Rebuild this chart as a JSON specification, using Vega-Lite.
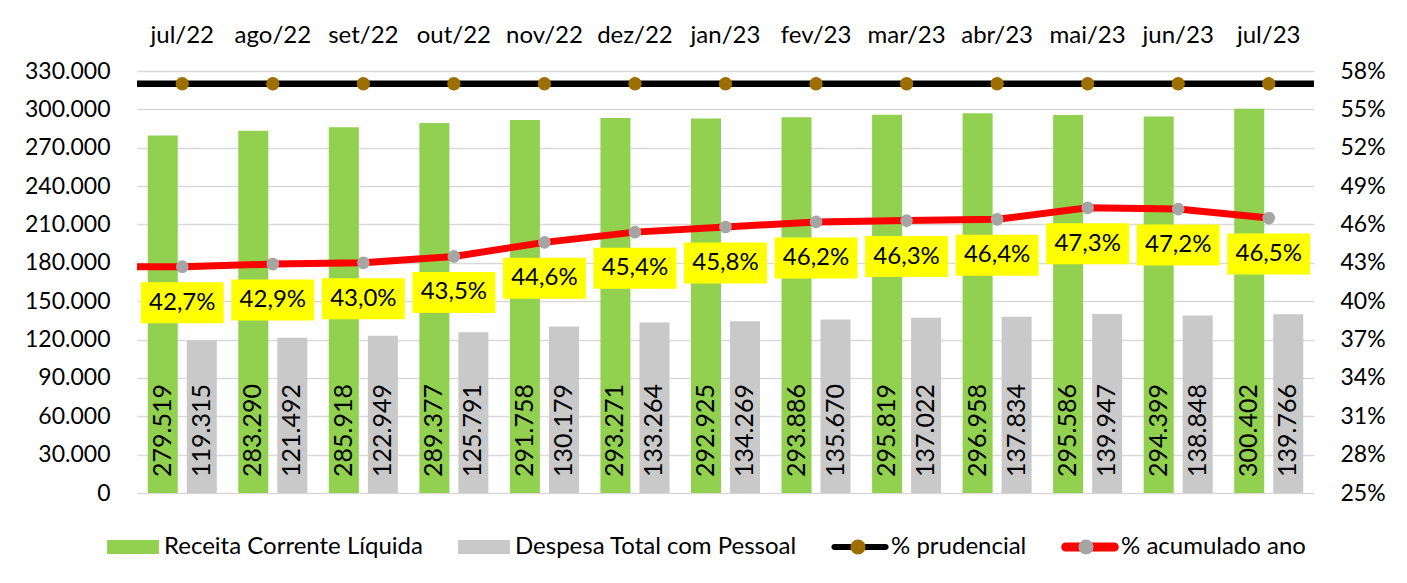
{
  "$schema": "https://vega.github.io/schema/vega-lite/v6.json",
  "width": 1177,
  "height": 422,
  "autosize": {"type": "none"},
  "padding": {"left": 137, "top": 71, "right": 93, "bottom": 90},
  "background": "white",
  "config": {
    "font": "Lato",
    "view": {"stroke": null},
    "locale": {"number": {"decimal": ",", "thousands": ".", "grouping": [3], "currency": ["R$", ""]}}
  },
  "datasets": {
    "barras": [
      {"mes": "jul/22", "serie": "Receita Corrente Líquida", "valor": 279519},
      {"mes": "jul/22", "serie": "Despesa Total com Pessoal", "valor": 119315},
      {"mes": "ago/22", "serie": "Receita Corrente Líquida", "valor": 283290},
      {"mes": "ago/22", "serie": "Despesa Total com Pessoal", "valor": 121492},
      {"mes": "set/22", "serie": "Receita Corrente Líquida", "valor": 285918},
      {"mes": "set/22", "serie": "Despesa Total com Pessoal", "valor": 122949},
      {"mes": "out/22", "serie": "Receita Corrente Líquida", "valor": 289377},
      {"mes": "out/22", "serie": "Despesa Total com Pessoal", "valor": 125791},
      {"mes": "nov/22", "serie": "Receita Corrente Líquida", "valor": 291758},
      {"mes": "nov/22", "serie": "Despesa Total com Pessoal", "valor": 130179},
      {"mes": "dez/22", "serie": "Receita Corrente Líquida", "valor": 293271},
      {"mes": "dez/22", "serie": "Despesa Total com Pessoal", "valor": 133264},
      {"mes": "jan/23", "serie": "Receita Corrente Líquida", "valor": 292925},
      {"mes": "jan/23", "serie": "Despesa Total com Pessoal", "valor": 134269},
      {"mes": "fev/23", "serie": "Receita Corrente Líquida", "valor": 293886},
      {"mes": "fev/23", "serie": "Despesa Total com Pessoal", "valor": 135670},
      {"mes": "mar/23", "serie": "Receita Corrente Líquida", "valor": 295819},
      {"mes": "mar/23", "serie": "Despesa Total com Pessoal", "valor": 137022},
      {"mes": "abr/23", "serie": "Receita Corrente Líquida", "valor": 296958},
      {"mes": "abr/23", "serie": "Despesa Total com Pessoal", "valor": 137834},
      {"mes": "mai/23", "serie": "Receita Corrente Líquida", "valor": 295586},
      {"mes": "mai/23", "serie": "Despesa Total com Pessoal", "valor": 139947},
      {"mes": "jun/23", "serie": "Receita Corrente Líquida", "valor": 294399},
      {"mes": "jun/23", "serie": "Despesa Total com Pessoal", "valor": 138848},
      {"mes": "jul/23", "serie": "Receita Corrente Líquida", "valor": 300402},
      {"mes": "jul/23", "serie": "Despesa Total com Pessoal", "valor": 139766}
    ],
    "acum": [
      {"i": -0.5, "pct": 0.427},
      {"i": 0, "mes": "jul/22", "pct": 0.427},
      {"i": 1, "mes": "ago/22", "pct": 0.429},
      {"i": 2, "mes": "set/22", "pct": 0.430},
      {"i": 3, "mes": "out/22", "pct": 0.435},
      {"i": 4, "mes": "nov/22", "pct": 0.446},
      {"i": 5, "mes": "dez/22", "pct": 0.454},
      {"i": 6, "mes": "jan/23", "pct": 0.458},
      {"i": 7, "mes": "fev/23", "pct": 0.462},
      {"i": 8, "mes": "mar/23", "pct": 0.463},
      {"i": 9, "mes": "abr/23", "pct": 0.464},
      {"i": 10, "mes": "mai/23", "pct": 0.473},
      {"i": 11, "mes": "jun/23", "pct": 0.472},
      {"i": 12, "mes": "jul/23", "pct": 0.465}
    ],
    "prud": [
      {"i": 0, "mes": "jul/22", "pct": 0.57},
      {"i": 1, "mes": "ago/22", "pct": 0.57},
      {"i": 2, "mes": "set/22", "pct": 0.57},
      {"i": 3, "mes": "out/22", "pct": 0.57},
      {"i": 4, "mes": "nov/22", "pct": 0.57},
      {"i": 5, "mes": "dez/22", "pct": 0.57},
      {"i": 6, "mes": "jan/23", "pct": 0.57},
      {"i": 7, "mes": "fev/23", "pct": 0.57},
      {"i": 8, "mes": "mar/23", "pct": 0.57},
      {"i": 9, "mes": "abr/23", "pct": 0.57},
      {"i": 10, "mes": "mai/23", "pct": 0.57},
      {"i": 11, "mes": "jun/23", "pct": 0.57},
      {"i": 12, "mes": "jul/23", "pct": 0.57}
    ]
  },
  "layer": [
    {
      "data": {"name": "barras"},
      "encoding": {
        "x": {
          "field": "mes", "type": "nominal", "sort": null, "title": null,
          "scale": {"paddingInner": 0.2376, "paddingOuter": 0.1188},
          "axis": {"orient": "top", "labelAngle": 0, "labelFontSize": 24, "labelPadding": 24, "labelColor": "black", "ticks": false, "domain": false, "grid": false, "labelOverlap": false}
        },
        "xOffset": {
          "field": "serie", "type": "nominal",
          "sort": ["Receita Corrente Líquida", "Despesa Total com Pessoal"],
          "scale": {"paddingInner": 0.2308, "paddingOuter": 0}
        }
      },
      "layer": [
        {
          "mark": {"type": "bar"},
          "encoding": {
            "y": {
              "field": "valor", "type": "quantitative", "title": null,
              "scale": {"domain": [0, 330000], "nice": false},
              "axis": {
                "orient": "left", "values": [0, 30000, 60000, 90000, 120000, 150000, 180000, 210000, 240000, 270000, 300000, 330000],
                "tickCount": 30,
                "format": ",.0f", "labelFontSize": 23, "labelColor": "black", "labelPadding": 27, "labelOverlap": false,
                "ticks": false, "domain": false, "grid": true, "gridColor": "#D9D9D9", "gridWidth": 1.5
              }
            },
            "color": {
              "field": "serie", "type": "nominal",
              "scale": {
                "domain": ["Receita Corrente Líquida", "Despesa Total com Pessoal", "% prudencial", "% acumulado ano"],
                "range": ["#92D050", "#C9C9C9", "#000000", "#FF0000"]
              },
              "legend": {
                "orient": "none", "legendX": -31, "legendY": 449, "direction": "horizontal", "title": null,
                "symbolSize": 2916, "symbolStrokeWidth": 0, "labelFontSize": 24, "labelColor": "black",
                "labelOffset": 4, "columnPadding": 34, "padding": 0, "labelLimit": 500,
                "encode": {"symbols": {"update": {"shape": {"signal": "datum.value === '% prudencial' ? 'M-0.95,-0.11H0.95A0.11,0.11,0,0,1,0.95,0.11H-0.95A0.11,0.11,0,0,1,-0.95,-0.11Z' : datum.value === '% acumulado ano' ? 'M-0.9,-0.167H0.9A0.167,0.167,0,0,1,0.9,0.167H-0.9A0.167,0.167,0,0,1,-0.9,-0.167Z' : 'M-0.96,-0.26H0.96V0.26H-0.96Z'"}}}}
              }
            }
          }
        },
        {
          "mark": {"type": "text", "angle": 270, "align": "left", "baseline": "middle", "dx": 16, "fontSize": 25, "color": "black"},
          "encoding": {
            "y": {"datum": 0, "type": "quantitative", "title": null},
            "text": {"field": "valor", "type": "quantitative", "format": ",.0f"}
          }
        }
      ]
    },
    {
      "layer": [
        {
          "data": {"values": [{"limite": 0.57}]},
          "mark": {"type": "rule", "color": "black", "strokeWidth": 6.5},
          "encoding": {
            "y": {
              "field": "limite", "type": "quantitative", "title": null,
              "scale": {"domain": [0.25, 0.58], "nice": false, "zero": false},
              "axis": {
                "orient": "right", "values": [0.25, 0.28, 0.31, 0.34, 0.37, 0.40, 0.43, 0.46, 0.49, 0.52, 0.55, 0.58],
                "tickCount": 30,
                "format": ".0%", "labelFontSize": 23, "labelColor": "black", "labelPadding": 26, "labelOverlap": false,
                "ticks": false, "domain": false, "grid": false
              }
            }
          }
        },
        {
          "data": {"name": "acum"},
          "mark": {"type": "line", "color": "#FF0000", "strokeWidth": 7},
          "encoding": {
            "x": {"field": "i", "type": "quantitative", "scale": {"domain": [-0.5, 12.5], "nice": false, "zero": false}, "axis": null},
            "y": {"field": "pct", "type": "quantitative", "title": null}
          }
        },
        {
          "data": {"name": "prud"},
          "mark": {"type": "circle", "size": 180, "opacity": 1, "strokeWidth": 0},
          "encoding": {
            "x": {"field": "i", "type": "quantitative", "axis": null},
            "y": {"field": "pct", "type": "quantitative", "title": null},
            "fill": {
              "datum": "P", "type": "nominal",
              "scale": {"domain": ["R", "D", "P", "A"], "range": ["transparent", "transparent", "#9C6F00", "#A5A5A5"]},
              "legend": {
                "orient": "none", "legendX": -31, "legendY": 449, "direction": "horizontal", "title": null, "zindex": 2,
                "symbolType": "M-0.278,0A0.278,0.278,0,1,1,0.278,0A0.278,0.278,0,1,1,-0.278,0Z",
                "symbolSize": 2916, "symbolStrokeWidth": 0, "labelFontSize": 24, "labelOpacity": 0,
                "labelOffset": 4, "columnPadding": 34, "padding": 0, "labelLimit": 500,
                "labelExpr": "datum.label == 'R' ? 'Receita Corrente Líquida' : datum.label == 'D' ? 'Despesa Total com Pessoal' : datum.label == 'P' ? '% prudencial' : '% acumulado ano'"
              }
            }
          }
        },
        {
          "data": {"name": "acum"},
          "transform": [{"filter": "datum.i >= 0"}],
          "mark": {"type": "circle", "size": 160, "opacity": 1, "strokeWidth": 0},
          "encoding": {
            "x": {"field": "i", "type": "quantitative", "axis": null},
            "y": {"field": "pct", "type": "quantitative", "title": null},
            "fill": {"datum": "A", "type": "nominal"}
          }
        },
        {
          "data": {"name": "acum"},
          "transform": [{"filter": "datum.i >= 0"}],
          "mark": {"type": "point", "shape": "M-1,-0.494H1V0.494H-1Z", "size": 6889, "filled": true, "color": "#FFFF00", "opacity": 1, "strokeWidth": 0, "yOffset": 36},
          "encoding": {
            "x": {"field": "i", "type": "quantitative", "axis": null},
            "y": {"field": "pct", "type": "quantitative", "title": null}
          }
        },
        {
          "data": {"name": "acum"},
          "transform": [{"filter": "datum.i >= 0"}],
          "mark": {"type": "text", "fontSize": 24, "baseline": "middle", "align": "center", "color": "black", "yOffset": 36},
          "encoding": {
            "x": {"field": "i", "type": "quantitative", "axis": null},
            "y": {"field": "pct", "type": "quantitative", "title": null},
            "text": {"field": "pct", "type": "quantitative", "format": ".1%"}
          }
        }
      ]
    }
  ],
  "resolve": {"scale": {"x": "independent", "y": "independent"}}
}
